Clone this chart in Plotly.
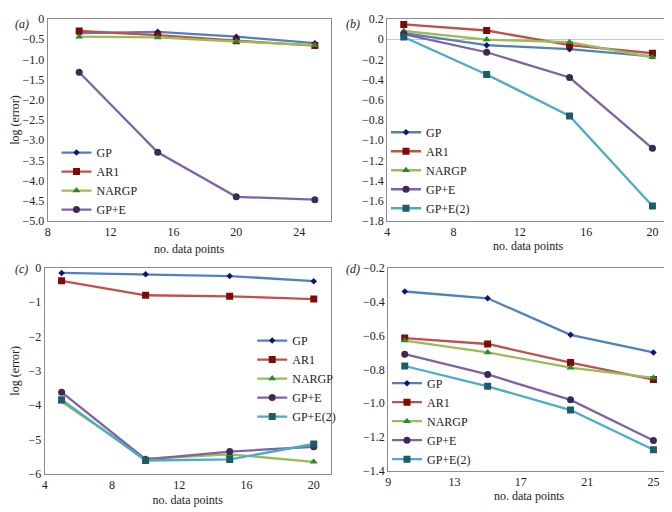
import plotly.graph_objects as go

# panel (a)
x_a = [10, 15, 20, 25]
a_gp = [-0.35, -0.32, -0.44, -0.60]
a_ar1 = [-0.30, -0.40, -0.54, -0.66]
a_nargp = [-0.44, -0.46, -0.56, -0.65]
a_gpe = [-1.32, -3.30, -4.40, -4.47]

# panel (b)
x_b = [5, 10, 15, 20]
b_gp = [0.06, -0.06, -0.10, -0.17]
b_ar1 = [0.145, 0.085, -0.06, -0.14]
b_nargp = [0.08, -0.005, -0.03, -0.18]
b_gpe = [0.05, -0.13, -0.38, -1.08]
b_gpe2 = [0.02, -0.35, -0.76, -1.65]

# panel (c)
x_c = [5, 10, 15, 20]
c_gp = [-0.15, -0.19, -0.24, -0.39]
c_ar1 = [-0.38, -0.80, -0.83, -0.91]
c_nargp = [-3.90, -5.56, -5.43, -5.65]
c_gpe = [-3.62, -5.58, -5.35, -5.21]
c_gpe2 = [-3.84, -5.61, -5.58, -5.13]

# panel (d)
x_d = [10, 15, 20, 25]
d_gp = [-0.34, -0.38, -0.596, -0.70]
d_ar1 = [-0.615, -0.65, -0.76, -0.86]
d_nargp = [-0.63, -0.70, -0.79, -0.85]
d_gpe = [-0.71, -0.83, -0.98, -1.22]
d_gpe2 = [-0.78, -0.90, -1.04, -1.275]

a_yticks = [0, -0.5, -1.0, -1.5, -2.0, -2.5, -3.0, -3.5, -4.0, -4.5, -5.0]
a_yticktext = ["0", "−0.5", "−1.0", "−1.5", "−2.0", "−2.5", "−3.0", "−3.5", "−4.0", "−4.5", "−5.0"]
b_yticks = [0.2, 0, -0.2, -0.4, -0.6, -0.8, -1.0, -1.2, -1.4, -1.6, -1.8]
b_yticktext = ["0.2", "0", "−0.2", "−0.4", "−0.6", "−0.8", "−1.0", "−1.2", "−1.4", "−1.6", "−1.8"]

FONT = "Liberation Serif"
AXIS_GREY = "#8c8c8c"
TXT = "#222"

# name -> (line colour, marker colour, symbol, size)
styles = {
    "GP": ("#4f81bd", "#14146e", "diamond", 5),
    "AR1": ("#c0504d", "#7f0a0a", "square", 7),
    "NARGP": ("#9bbb59", "#2a8a2a", "triangle-up", 7),
    "GP+E": ("#8064a2", "#3b2a55", "circle", 7),
    "GP+E(2)": ("#4bacc6", "#1f5b6c", "square", 7),
}

panels = [
    ("x", "y", "legend", x_a, [("GP", a_gp), ("AR1", a_ar1), ("NARGP", a_nargp), ("GP+E", a_gpe)]),
    ("x2", "y2", "legend2", x_b, [("GP", b_gp), ("AR1", b_ar1), ("NARGP", b_nargp), ("GP+E", b_gpe), ("GP+E(2)", b_gpe2)]),
    ("x3", "y3", "legend3", x_c, [("GP", c_gp), ("AR1", c_ar1), ("NARGP", c_nargp), ("GP+E", c_gpe), ("GP+E(2)", c_gpe2)]),
    ("x4", "y4", "legend4", x_d, [("GP", d_gp), ("AR1", d_ar1), ("NARGP", d_nargp), ("GP+E", d_gpe), ("GP+E(2)", d_gpe2)]),
]

fig = go.Figure()
for xa, ya, leg, xs, series in panels:
    for name, ys in series:
        lc, mc, sym, sz = styles[name]
        fig.add_trace(go.Scatter(
            x=xs, y=ys, name=name, mode="lines+markers",
            line=dict(color=lc, width=2.3),
            marker=dict(color=mc, symbol=sym, size=sz),
            xaxis=xa, yaxis=ya, legend=leg,
        ))

axis_common = dict(
    showline=True, linecolor=AXIS_GREY, linewidth=1, mirror=True,
    showgrid=False, zeroline=False, ticks="",
    tickfont=dict(family=FONT, size=12, color=TXT),
    title_font=dict(family=FONT, size=12, color=TXT),
)

xt = "no. data points"
yt = "log (error)"

# the page body adds an 8px margin, so the figure is 8px smaller each way
fig.update_layout(
    width=664, height=504,
    margin=dict(l=0, r=0, t=0, b=0),
    paper_bgcolor="white", plot_bgcolor="white",
    font=dict(family=FONT, size=12, color=TXT),
    xaxis=dict(domain=[0.0527, 0.4819], range=[8, 26], tickvals=[8, 12, 16, 20, 24],
               title=dict(text=xt, standoff=6), anchor="y", **axis_common),
    yaxis=dict(domain=[0.5794, 0.9921], range=[-5.0, 0], tickvals=a_yticks, ticktext=a_yticktext,
               title=dict(text=yt, standoff=6), anchor="x", **axis_common),
    xaxis2=dict(domain=[0.5678, 0.9955], range=[4, 21], tickvals=[4, 8, 12, 16, 20],
                title=dict(text=xt, standoff=0), anchor="y2", **axis_common),
    yaxis2=dict(domain=[0.5794, 0.9921], range=[-1.8, 0.2], tickvals=b_yticks, ticktext=b_yticktext,
                anchor="x2", **axis_common),
    xaxis3=dict(domain=[0.0482, 0.4819], range=[4, 21], tickvals=[4, 8, 12, 16, 20],
                title=dict(text=xt, standoff=4), anchor="y3", **axis_common),
    yaxis3=dict(domain=[0.0635, 0.4841], range=[-6, 0], tickvals=[0, -1, -2, -3, -4, -5, -6],
                title=dict(text=yt, standoff=10), anchor="x3", **axis_common),
    xaxis4=dict(domain=[0.5693, 0.9970], range=[9, 26], tickvals=[9, 13, 17, 21, 25],
                title=dict(text=xt, standoff=0), anchor="y4", **axis_common),
    yaxis4=dict(domain=[0.0694, 0.4841], range=[-1.4, -0.2], tickformat=".1f",
                dtick=0.2, tick0=-0.2, anchor="x4", **axis_common),
    showlegend=True,
)
fig.layout.yaxis2.zeroline = True
fig.layout.yaxis2.zerolinecolor = "#c8c8c8"
fig.layout.yaxis2.zerolinewidth = 1

leg_common = dict(bgcolor="rgba(0,0,0,0)", font=dict(family=FONT, size=12, color=TXT),
                  itemwidth=30, tracegroupgap=0)
fig.update_layout(
    legend=dict(x=0.066, y=0.661, xanchor="left", yanchor="middle", **leg_common),
    legend2=dict(x=0.566, y=0.576, xanchor="left", yanchor="bottom", **leg_common),
    legend3=dict(x=0.363, y=0.258, xanchor="left", yanchor="middle", **leg_common),
    legend4=dict(x=0.5675, y=0.064, xanchor="left", yanchor="bottom", **leg_common),
)

for label, px, py in [("(a)", 0.0, 1.0), ("(b)", 0.503, 1.0), ("(c)", 0.0, 0.500), ("(d)", 0.503, 0.500)]:
    fig.add_annotation(text="<i>" + label + "</i>", x=px, y=py, xref="paper", yref="paper",
                       xanchor="left", yanchor="top", showarrow=False,
                       font=dict(family=FONT, size=12, color=TXT))

fig.write_html("out.html")
